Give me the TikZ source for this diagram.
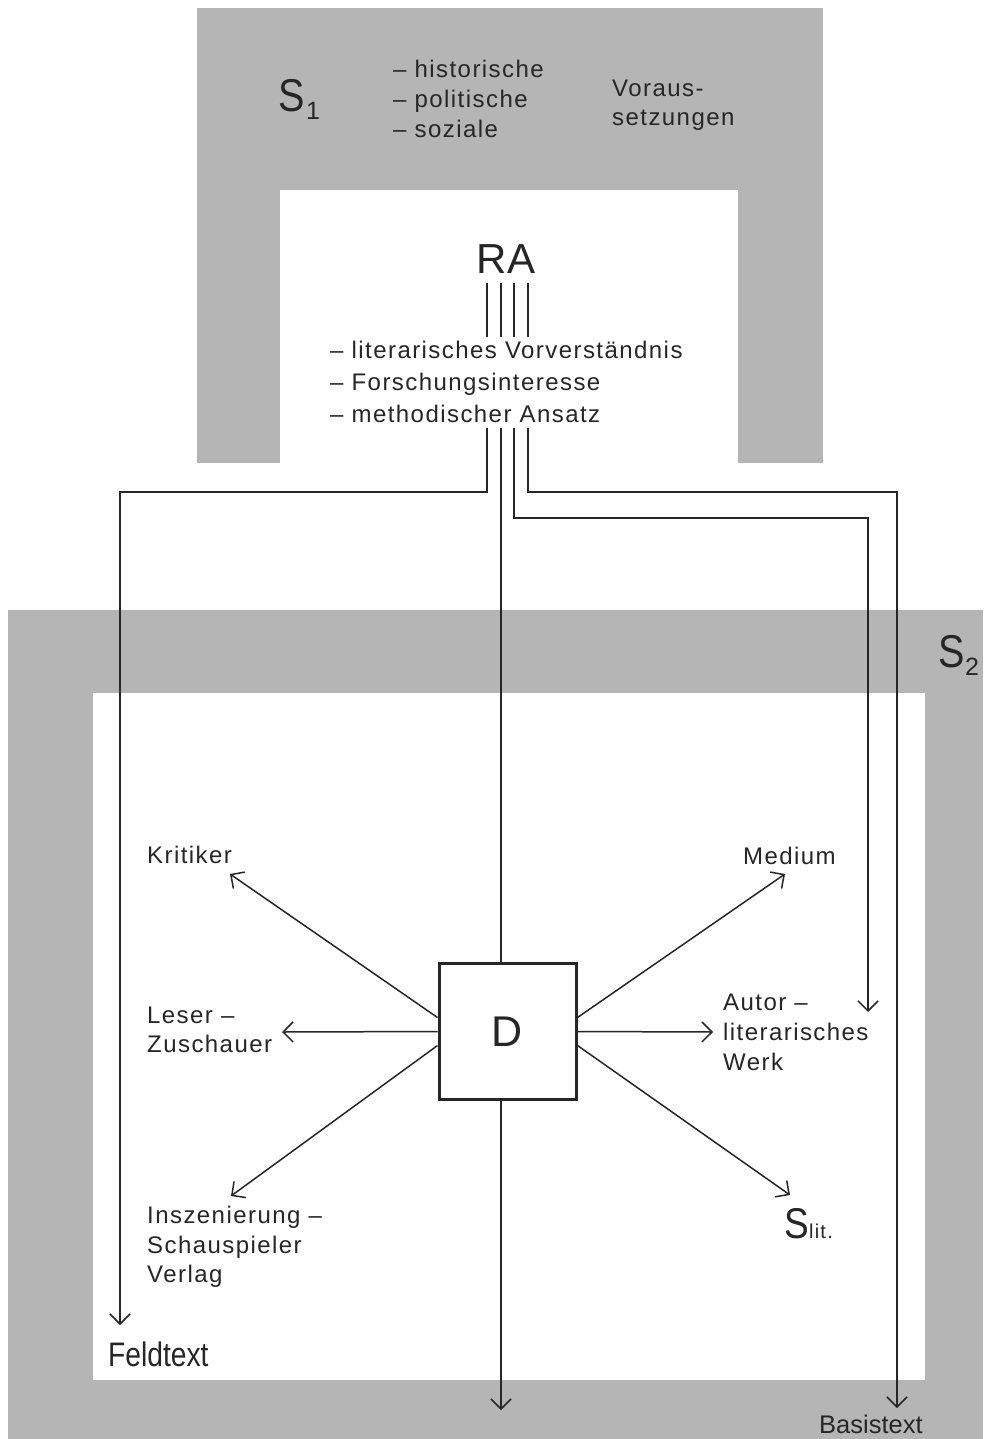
\documentclass[tikz,border=0pt]{standalone}
\usepackage{fontspec}
\setmainfont{Liberation Sans}
\newfontfamily\lsfont{Liberation Sans}[LetterSpace=6]
\usetikzlibrary{arrows.meta,calc}
\definecolor{band}{RGB}{181,181,181}
\definecolor{ink}{RGB}{38,38,38}
\begin{document}
\begin{tikzpicture}[x=1pt,y=-1pt,
  conn/.style={draw=ink,line width=1.5pt},
  arr/.style={conn,-{Straight Barb[length=10pt,width=20pt,line width=1.5pt]}},
  lbl/.style={inner sep=0pt,anchor=base west,text=ink,font=\lsfont\fontsize{24}{24}\selectfont},
  big/.style={inner sep=0pt,anchor=base west,text=ink,font=\fontsize{46}{46}\selectfont},
  sub/.style={inner sep=0pt,anchor=base west,text=ink,font=\fontsize{25}{25}\selectfont},
  dbox/.style={draw=ink,line width=3pt,minimum width=137pt,minimum height=136pt,inner sep=0pt,text=ink,font=\fontsize{43}{43}\selectfont}
]
\useasboundingbox (0,0) rectangle (983,1439);
% gray frames
\fill[band] (197,8) rectangle (823,463);
\fill[white] (280,190) rectangle (738,464);
\fill[band] (8,610) rectangle (983,1439);
\fill[white] (93,693) rectangle (925,1380);

% S1 block
\node[big] (S1) at (278,112) {\scalebox{0.86}[1]{S}};
\node[sub] (S1sub) at (306,120) {1};
\node[lbl] (h1) at (393,78) {– historische};
\node[lbl] (h2) at (393,108) {– politische};
\node[lbl] (h3) at (393,138) {– soziale};
\node[lbl] (v1) at (612,97) {Voraus-};
\node[lbl] (v2) at (612,126) {setzungen};

% S2
\node[big] (S2) at (938,667) {\scalebox{0.86}[1]{S}};
\node[sub] (S2sub) at (965,675) {2};

% RA
\node[inner sep=0pt,anchor=base,text=ink,font=\fontsize{42}{42}\selectfont] (RA) at (506,273) {RA};
\node[lbl] (l1) at (330,358) {– literarisches Vorverständnis};
\node[lbl] (l2) at (330,390) {– Forschungsinteresse};
\node[lbl] (l3) at (330,422) {– methodischer Ansatz};

\foreach \i/\x in {1/487,2/501,3/514,4/528}{
  \coordinate (a\i) at (\x,283);
  \coordinate (b\i) at (\x,337);
  \coordinate (c\i) at (\x,428);
}
\foreach \i in {1,2,3,4}{ \draw[conn] (a\i) -- (b\i); }

% D box
\node[dbox] (D) at (507.5,1031.5) {D};

% main routed connectors
\coordinate (feld) at (120,1325);
\coordinate (werkin) at (868,1012);
\coordinate (basis) at (897,1408);
\coordinate (mid) at (501,1410);
\draw[arr] (c1) -- (487,492) -- (120,492) -- (feld);
\draw[conn] (c2) -- ($(D.north)+(-6.5,0)$);
\draw[arr] ($(D.south)+(-6.5,0)$) -- (mid);
\draw[arr] (c3) -- (514,518) -- (868,518) -- (werkin);
\draw[arr] (c4) -- (528,492) -- (897,492) -- (basis);

% labels in S2
\node[lbl] (krit) at (147,863) {Kritiker};
\node[lbl] (les1) at (147,1023) {Leser –};
\node[lbl] (les2) at (147,1052) {Zuschauer};
\node[lbl] (ins1) at (147,1223) {Inszenierung –};
\node[lbl] (ins2) at (147,1253) {Schauspieler};
\node[lbl] (ins3) at (147,1282) {Verlag};
\node[lbl] (med) at (743,864) {Medium};
\node[lbl] (aut1) at (723,1010) {Autor –};
\node[lbl] (aut2) at (723,1040) {literarisches};
\node[lbl] (aut3) at (723,1070) {Werk};
\node[inner sep=0pt,anchor=base west,text=ink,font=\fontsize{43}{43}\selectfont] (Slit) at (784,1238) {\scalebox{0.86}[1]{S}};
\node[inner sep=0pt,anchor=base west,text=ink,font=\lsfont\fontsize{20}{20}\selectfont] (Slitsub) at (809,1238) {lit.};
\node[inner sep=0pt,anchor=base west,text=ink,font=\fontsize{34}{34}\selectfont] (Feld) at (108,1366) {\scalebox{0.83}[1]{Feldtext}};
\node[inner sep=0pt,anchor=base west,text=ink,font=\fontsize{25.5}{25.5}\selectfont] (Bas) at (819,1433) {Basistext};

% arrows out of D
\coordinate (tk) at (230,874);
\coordinate (tl) at (282,1032);
\coordinate (ti) at (231,1196);
\coordinate (tm) at (785,874);
\coordinate (ta) at (713,1032);
\coordinate (ts) at (790,1195);
\draw[arr] ($(D.west)+(0,-14)$) -- (tk);
\draw[arr] (D.west) -- (tl);
\draw[arr] ($(D.west)+(0,14)$) -- (ti);
\draw[arr] ($(D.east)+(0,-14)$) -- (tm);
\draw[arr] (D.east) -- (ta);
\draw[arr] ($(D.east)+(0,14)$) -- (ts);
\end{tikzpicture}
\end{document}
